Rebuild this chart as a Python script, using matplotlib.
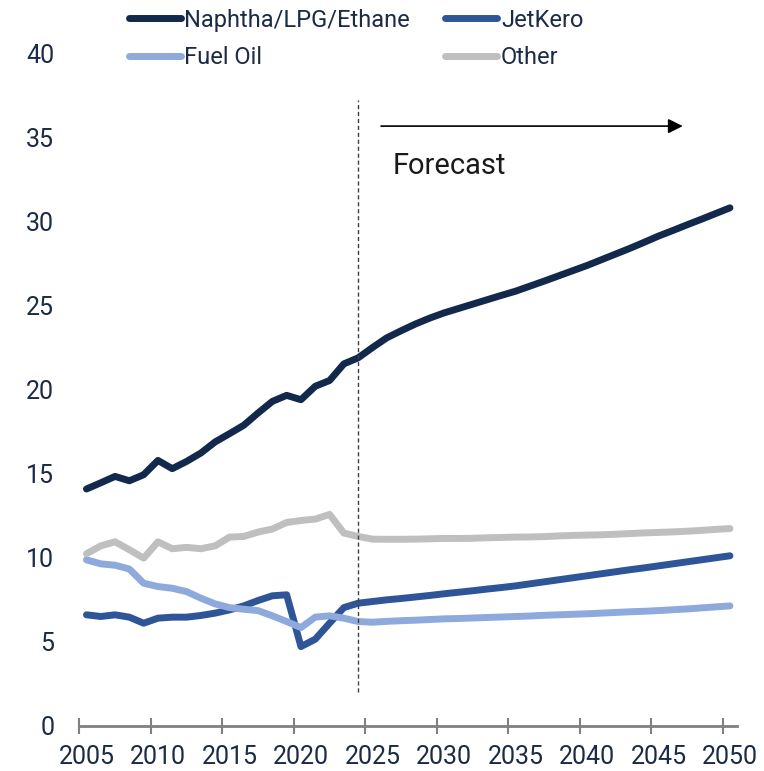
import matplotlib
matplotlib.use("Agg")
import matplotlib.pyplot as plt
import numpy as np

plt.rcParams['font.family'] = ['Roboto', 'DejaVu Sans']

years = np.arange(2005, 2051)

naphtha = [14.09, 14.46, 14.84, 14.58, 14.94, 15.79, 15.30, 15.73, 16.23, 16.89,
           17.38, 17.88, 18.61, 19.30, 19.66, 19.40, 20.20, 20.54, 21.53, 21.89,
           22.50, 23.08, 23.50, 23.90, 24.25, 24.56, 24.82, 25.08, 25.34, 25.60,
           25.85, 26.15, 26.45, 26.76, 27.07, 27.38, 27.72, 28.06, 28.40, 28.76,
           29.13, 29.46, 29.80, 30.13, 30.47, 30.81]
jetkero = [6.61, 6.51, 6.61, 6.47, 6.11, 6.41, 6.47, 6.47, 6.57, 6.71,
           6.90, 7.14, 7.46, 7.74, 7.80, 4.72, 5.16, 6.11, 7.04, 7.30,
           7.40, 7.50, 7.58, 7.67, 7.76, 7.86, 7.95, 8.04, 8.14, 8.23,
           8.33, 8.45, 8.57, 8.69, 8.81, 8.93, 9.05, 9.17, 9.29, 9.40,
           9.52, 9.64, 9.76, 9.88, 10.00, 10.12]
fuel_oil = [9.88, 9.64, 9.56, 9.33, 8.49, 8.29, 8.19, 7.99, 7.60, 7.26,
            7.04, 6.94, 6.86, 6.55, 6.21, 5.85, 6.47, 6.55, 6.41, 6.21,
            6.17, 6.22, 6.26, 6.29, 6.33, 6.37, 6.39, 6.42, 6.45, 6.48,
            6.51, 6.54, 6.58, 6.61, 6.64, 6.67, 6.71, 6.75, 6.79, 6.82,
            6.86, 6.91, 6.96, 7.02, 7.08, 7.14]
other = [10.24, 10.71, 10.95, 10.48, 9.98, 10.95, 10.54, 10.62, 10.54, 10.71,
         11.23, 11.27, 11.53, 11.71, 12.10, 12.22, 12.30, 12.58, 11.47, 11.27,
         11.11, 11.10, 11.10, 11.11, 11.13, 11.15, 11.15, 11.16, 11.19, 11.21,
         11.23, 11.24, 11.26, 11.30, 11.33, 11.35, 11.37, 11.40, 11.44, 11.48,
         11.51, 11.54, 11.58, 11.63, 11.69, 11.74]

tick_years = np.arange(2005, 2051, 5)
forecast_start = 2024

navy = '#1c2b45'

fig = plt.figure(figsize=(7.64, 7.71), dpi=100)
ax = fig.add_axes([0.1038, 0.0584, 0.861, 0.8725])

style = dict(lw=5, solid_capstyle='round', solid_joinstyle='round')
l1, = ax.plot(years, naphtha, color='#13294b', label='Naphtha/LPG/Ethane', **style)
l2, = ax.plot(years, jetkero, color='#2e5597', label='JetKero', **style)
l3, = ax.plot(years, fuel_oil, color='#8eaadc', label='Fuel Oil', **style)
l4, = ax.plot(years, other, color='#bfbfbf', label='Other', **style)

# forecast marker
ax.vlines(forecast_start, 2, 37.2, colors='#404040', linestyles=(0, (3, 2)), lw=1)
ax.annotate('', xy=(2046.7, 35.67), xytext=(2025.6, 35.67),
            arrowprops=dict(arrowstyle='-|>', color='black', lw=1.2,
                            mutation_scale=22, shrinkA=0, shrinkB=0))
ax.text(2026.4, 33.3, 'Forecast', fontsize=21, color='#1a1a1a', va='center')

ax.set_xlim(2004.5, 2050.5)
ax.set_ylim(0, 40)
ax.set_yticks(range(0, 41, 5))
ax.set_xticks(tick_years - 0.5)
ax.set_xticks(tick_years, minor=True)
ax.set_xticklabels([])
ax.set_xticklabels([str(y) for y in tick_years], minor=True)

for s in ['top', 'right', 'left']:
    ax.spines[s].set_visible(False)
ax.spines['bottom'].set_color('#808080')
ax.spines['bottom'].set_linewidth(2)

ax.tick_params(axis='y', length=0, pad=18, labelsize=18, labelcolor=navy)
ax.tick_params(axis='x', which='major', direction='inout', length=11,
               width=1.5, color='#808080')
ax.tick_params(axis='x', which='minor', length=0, pad=14, labelsize=18,
               labelcolor=navy)

# legend fills column-wise, so order handles to get two rows as in the source
fig.legend([l1, l3, l2, l4], ['Naphtha/LPG/Ethane', 'Fuel Oil', 'JetKero', 'Other'],
           loc='upper left', bbox_to_anchor=(117 / 764, 1.004), ncol=2,
           frameon=False, fontsize=17, handlelength=2.2, handletextpad=0.15,
           columnspacing=1.5, labelspacing=0.62, borderpad=0,
           labelcolor=navy)

fig.savefig('out.png', dpi=100)
